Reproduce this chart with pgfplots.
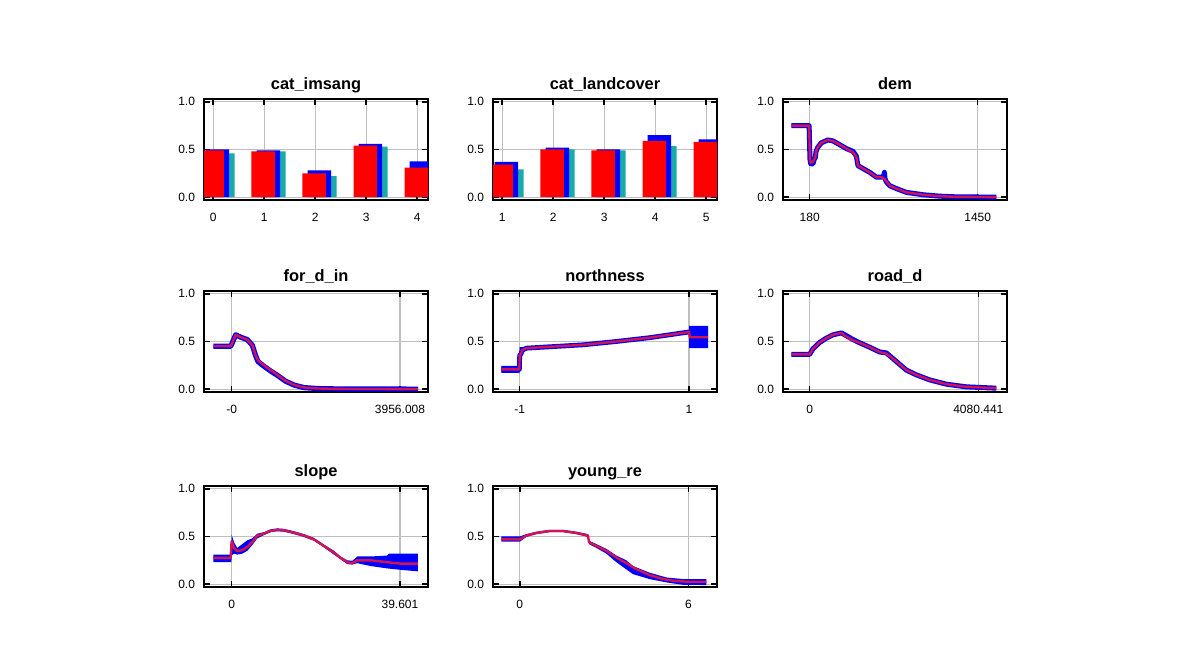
\documentclass[border=0pt]{standalone}
\usepackage{fontspec}
\setmainfont{Liberation Sans}
\usepackage{pgfplots}
\pgfplotsset{compat=1.18}
\definecolor{cy}{RGB}{25,170,170}
\definecolor{mred}{RGB}{210,20,80}
\pgfplotsset{panel/.style={
  scale only axis, width=112pt, height=50.5pt, anchor=south west,
  ymin=-0.03, ymax=1.03, ytick={0,0.5,1}, yticklabels={0.0,0.5,1.0},
  xmajorgrids, ymajorgrids, major grid style={draw=black!25, line width=0.6pt},
  axis line style={line width=1pt},
  major tick style={black, line width=0.8pt}, major tick length=3pt, tick align=inside,
  tick label style={font=\fontsize{6}{7}\selectfont},
  yticklabel style={xshift=-1pt},
  xticklabel style={anchor=base, yshift=-10.8pt},
  title style={font=\bfseries\fontsize{8.2}{9}\selectfont, at={(0.5,1)}, anchor=base, yshift=-1.2pt},
}}
\begin{document}
\begin{tikzpicture}
\useasboundingbox (0,0) rectangle (595pt,325.5pt);

% cat_imsang
\begin{axis}[panel, at={(102pt,225.5pt)}, title={cat\_imsang}, xmin=-0.18, xmax=4.21,
  xtick={0,1,2,3,4}, xticklabels={0,1,2,3,4}]
\addplot[ybar, bar width=0.46, bar shift=0.19, fill=cy, draw=none] coordinates {(0,0.46) (1,0.48) (2,0.22) (3,0.53) (4,0.30)};
\addplot[ybar, bar width=0.46, bar shift=0.08, fill=blue, draw=none] coordinates {(0,0.50) (1,0.49) (2,0.28) (3,0.56) (4,0.375)};
\addplot[ybar, bar width=0.46, bar shift=-0.02, fill=red, draw=none] coordinates {(0,0.49) (1,0.48) (2,0.25) (3,0.54) (4,0.31)};
\end{axis}

% cat_landcover
\begin{axis}[panel, at={(246.5pt,225.5pt)}, title={cat\_landcover}, xmin=0.82, xmax=5.21,
  xtick={1,2,3,4,5}, xticklabels={1,2,3,4,5}]
\addplot[ybar, bar width=0.46, bar shift=0.19, fill=cy, draw=none] coordinates {(1,0.29) (2,0.50) (3,0.49) (4,0.535) (5,0.55)};
\addplot[ybar, bar width=0.46, bar shift=0.08, fill=blue, draw=none] coordinates {(1,0.37) (2,0.52) (3,0.50) (4,0.65) (5,0.605)};
\addplot[ybar, bar width=0.46, bar shift=-0.02, fill=red, draw=none] coordinates {(1,0.34) (2,0.50) (3,0.49) (4,0.59) (5,0.58)};
\end{axis}

% dem
\begin{axis}[panel, at={(391.5pt,225.5pt)}, title={dem}, xmin=-21.6, xmax=1671.6,
  xtick={180,1450}, xticklabels={180,1450}]
\addplot[blue, line width=2.5pt, line join=round] coordinates {(41,0.75) (176,0.75) (182,0.40) (188,0.35) (205,0.35) (215,0.40) (222,0.41) (228,0.48) (240,0.52) (268,0.57) (318,0.60) (356,0.59) (407,0.55) (457,0.51) (508,0.48) (533,0.43) (545,0.33) (583,0.30) (634,0.26) (684,0.21) (722,0.21) (740,0.22) (745,0.26) (750,0.19) (760,0.16) (785,0.12) (835,0.09) (911,0.05) (1037,0.025) (1163,0.01) (1289,0.003) (1591,0)};
\addplot[mred, line width=1.2pt, line join=round] coordinates {(41,0.75) (176,0.75) (182,0.40) (188,0.36) (205,0.37) (215,0.40) (222,0.41) (228,0.48) (240,0.52) (268,0.57) (318,0.60) (356,0.59) (407,0.55) (457,0.51) (508,0.47) (533,0.42) (545,0.33) (583,0.30) (634,0.26) (684,0.21) (722,0.21) (747,0.19) (785,0.12) (835,0.09) (911,0.05) (1037,0.025) (1163,0.01) (1289,0.003) (1591,0)};
\end{axis}

% for_d_in
\begin{axis}[panel, at={(102pt,129.5pt)}, title={for\_d\_in}, xmin=-650, xmax=4614,
  xtick={0,3956.008}, xticklabels={-0,3956.008}]
\addplot[blue, line width=2.6pt, line join=round] coordinates {(-431,0.45) (-23,0.45) (0,0.47) (94,0.57) (211,0.545) (368,0.52) (486,0.46) (564,0.35) (619,0.29) (760,0.24) (917,0.19) (1073,0.145) (1269,0.083) (1465,0.043) (1700,0.016) (2013,0.006) (2500,0.002) (4379,0)};
\addplot[mred, line width=1.2pt, line join=round] coordinates {(-431,0.45) (-23,0.45) (0,0.47) (94,0.57) (211,0.545) (368,0.52) (486,0.46) (564,0.355) (619,0.30) (760,0.25) (917,0.20) (1073,0.15) (1269,0.086) (1465,0.045) (1700,0.017) (2013,0.007) (2500,0.002) (4379,0)};
\end{axis}

% northness
\begin{axis}[panel, at={(246.5pt,129.5pt)}, title={northness}, xmin=-1.315, xmax=1.33,
  xtick={-1,1}, xticklabels={-1,1}]
\addplot[fill=blue, draw=none] coordinates {(-1.217,0.245) (-1.0,0.245) (-1.0,0.44) (-0.86,0.44) (-0.86,0.435) (-0.252,0.475) (0.142,0.51) (0.535,0.55) (1.0,0.61) (1.0,0.665) (1.224,0.665) (1.224,0.43) (1.0,0.43) (1.0,0.59) (0.535,0.53) (0.142,0.49) (-0.252,0.455) (-0.92,0.42) (-0.97,0.36) (-0.99,0.28) (-1.0,0.28) (-1.0,0.17) (-1.217,0.17)} -- cycle;
\addplot[blue, line width=2.4pt, line join=round] coordinates {(-1.217,0.207) (-1.004,0.207) (-1.0,0.355) (-0.985,0.37) (-0.969,0.41) (-0.92,0.43) (-0.252,0.465) (0.142,0.50) (0.535,0.54) (1.0,0.60)};
\addplot[mred, line width=1.2pt, line join=round] coordinates {(-1.217,0.207) (-1.004,0.207) (-1.0,0.355) (-0.985,0.37) (-0.969,0.41) (-0.92,0.43) (-0.252,0.465) (0.142,0.50) (0.535,0.54) (1.0,0.60) (1.008,0.545) (1.224,0.545)};
\end{axis}

% road_d
\begin{axis}[panel, at={(391.5pt,129.5pt)}, title={road\_d}, xmin=-645, xmax=4774,
  xtick={0,4080.441}, xticklabels={0,4080.441}]
\addplot[blue, line width=2.5pt, line join=round] coordinates {(-443,0.365) (0,0.365) (81,0.424) (242,0.49) (403,0.535) (565,0.57) (766,0.59) (871,0.565) (1008,0.53) (1210,0.486) (1451,0.44) (1693,0.39) (1855,0.38) (2016,0.32) (2177,0.26) (2339,0.20) (2580,0.15) (2903,0.097) (3306,0.052) (3790,0.024) (4516,0.01)};
\addplot[mred, line width=1.2pt, line join=round] coordinates {(-443,0.365) (0,0.365) (81,0.424) (242,0.49) (403,0.535) (565,0.57) (766,0.59) (871,0.555) (1008,0.52) (1210,0.486) (1451,0.44) (1693,0.39) (1855,0.372) (2016,0.32) (2177,0.26) (2339,0.20) (2580,0.15) (2903,0.097) (3306,0.052) (3790,0.024) (4516,0.01)};
\end{axis}

% slope
\begin{axis}[panel, at={(102pt,32pt)}, title={slope}, xmin=-6.5, xmax=46.2,
  xtick={0,39.601}, xticklabels={0,39.601}]
\addplot[fill=blue, draw=none] coordinates {(-4.31,0.31) (-0.05,0.31) (0,0.52) (0.55,0.44) (1.33,0.38) (2.51,0.42) (3.69,0.46) (4.86,0.48) (6.04,0.53) (7.61,0.545) (9.18,0.575) (10.74,0.585) (12.31,0.58) (14.66,0.555) (17.02,0.525) (19.37,0.485) (21.72,0.415) (24.07,0.35) (25.64,0.29) (27.21,0.25) (28.39,0.245) (29.56,0.29) (32.7,0.29) (36.6,0.30) (37.0,0.32) (43.84,0.32) (43.84,0.134) (39.76,0.15) (36.6,0.165) (32.7,0.19) (29.56,0.22) (28.39,0.205) (27.21,0.21) (25.64,0.26) (24.07,0.31) (21.72,0.385) (19.37,0.455) (17.02,0.495) (14.66,0.525) (12.31,0.55) (10.74,0.555) (9.18,0.545) (7.61,0.515) (6.04,0.48) (4.86,0.41) (3.69,0.35) (2.51,0.32) (1.33,0.31) (0.55,0.32) (0,0.30) (-0.05,0.23) (-4.31,0.23)} -- cycle;
\addplot[mred, line width=1.2pt, line join=round] coordinates {(-4.31,0.275) (-0.235,0.275) (0,0.45) (0.55,0.38) (1.33,0.346) (2.51,0.357) (3.69,0.39) (4.86,0.44) (6.04,0.51) (7.61,0.53) (9.18,0.56) (10.74,0.57) (12.31,0.565) (14.66,0.54) (17.02,0.51) (19.37,0.47) (21.72,0.40) (24.07,0.33) (25.64,0.275) (27.21,0.23) (28.39,0.22) (29.56,0.25) (32.7,0.25) (36.6,0.23) (39.76,0.215) (43.84,0.215)};
\end{axis}

% young_re
\begin{axis}[panel, at={(246.5pt,32pt)}, title={young\_re}, xmin=-0.95, xmax=7.02,
  xtick={0,6}, xticklabels={0,6}]
\addplot[fill=blue, draw=none] coordinates {(-0.652,0.50) (0,0.50) (0.237,0.525) (0.593,0.55) (1.067,0.57) (1.54,0.57) (2.016,0.55) (2.43,0.525) (2.466,0.455) (2.727,0.42) (3.083,0.37) (3.439,0.30) (3.795,0.25) (4.03,0.19) (4.62,0.12) (5.22,0.07) (5.81,0.053) (6.64,0.053) (6.64,-0.01) (5.81,-0.007) (5.22,0.018) (4.62,0.053) (4.03,0.105) (3.439,0.23) (3.083,0.32) (2.727,0.38) (2.466,0.42) (2.43,0.495) (2.016,0.525) (1.54,0.545) (1.067,0.545) (0.593,0.525) (0.237,0.495) (0,0.445) (-0.652,0.445)} -- cycle;
\addplot[mred, line width=1.2pt, line join=round] coordinates {(-0.652,0.47) (0,0.47) (0.237,0.51) (0.593,0.537) (1.067,0.558) (1.54,0.558) (2.016,0.537) (2.43,0.51) (2.466,0.44) (2.727,0.40) (3.083,0.35) (3.439,0.28) (3.795,0.22) (4.15,0.158) (4.62,0.095) (5.1,0.053) (5.57,0.032) (6.05,0.025) (6.64,0.025)};
\end{axis}
\end{tikzpicture}
\end{document}
